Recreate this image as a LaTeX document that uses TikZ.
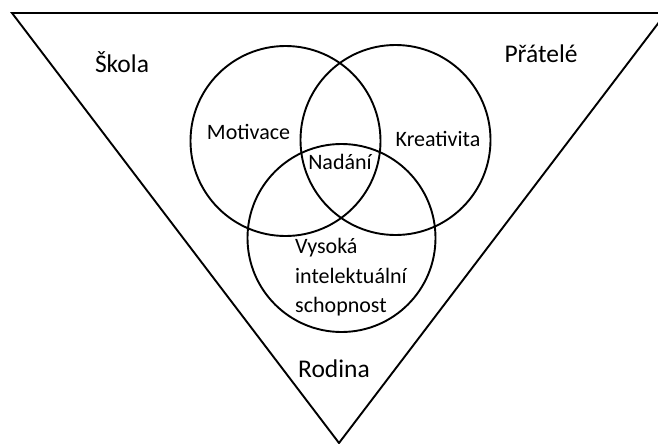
\documentclass[tikz,border=0pt]{standalone}
\usepackage{fontspec}
\setmainfont{Carlito}
\begin{document}
\begin{tikzpicture}[x=1pt,y=-1pt,
  outline/.style={line width=1.9pt, line join=miter},
  ring/.style={draw, line width=1.9pt, circle, inner sep=0pt, minimum size=#1},
  biglabel/.style={inner sep=0pt, anchor=base, font=\fontsize{25.5}{30}\selectfont},
  smalllabel/.style={inner sep=0pt, anchor=base, font=\fontsize{22}{29.5}\selectfont}]
\useasboundingbox (0,0) rectangle (658,444);
\clip (0,0) rectangle (658,444);
\coordinate (tl) at (12,13);
\coordinate (tr) at (666,13);
\coordinate (ap) at (339,443);
\draw[outline] (tl) -- (tr) -- (ap) -- cycle;
\node[ring=190pt] (cM) at (285.5,141) {};
\node[ring=190pt] (cK) at (395.5,140) {};
\node[ring=188pt] (cV) at (341.5,238) {};
\node[biglabel] (skola) at (122,72) {Škola};
\node[biglabel] (pratele) at (541,63) {Přátelé};
\node[biglabel] (rodina) at (334,377) {Rodina};
\node[smalllabel] (mot) at (248.5,139) {Motivace};
\node[smalllabel] (kre) at (438,146) {Kreativita};
\node[smalllabel] (nad) at (340,169) {Nadání};
\node[smalllabel, anchor=base west] (vys1) at (295,253) {Vysoká};
\node[smalllabel, anchor=base west] (vys2) at (295,283) {intelektuální};
\node[smalllabel, anchor=base west] (vys3) at (295,312) {schopnost};
\end{tikzpicture}
\end{document}
